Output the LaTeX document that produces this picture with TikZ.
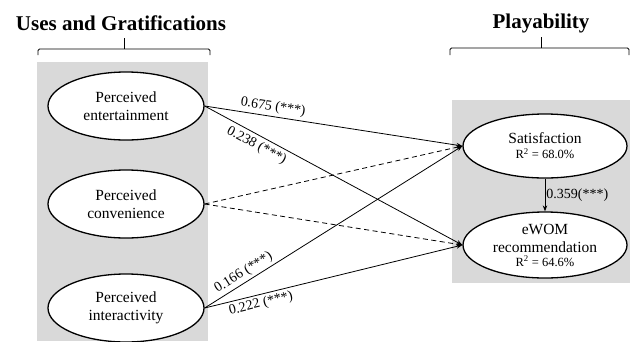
\documentclass[tikz,border=0pt]{standalone}
\usepackage{fontspec}
\setmainfont{Liberation Serif}
\usetikzlibrary{shapes.geometric,arrows.meta}
\definecolor{panelgray}{HTML}{D9D9D9}
\newcommand\myrsqfont{\fontsize{12.5}{14}\selectfont}
\tikzset{
  construct/.style={draw=black, line width=1.3pt, fill=white, ellipse, inner sep=0pt,
    minimum width=156pt, minimum height=68pt, align=center,
    font=\fontsize{15.5}{18}\selectfont},
  outcome/.style={construct, minimum width=164pt},
  linkarrow/.style={line width=0.8pt, -{Stealth[length=6pt,width=4.5pt]}},
  nslink/.style={linkarrow, dash pattern=on 5pt off 3.5pt},
  coef/.style={font=\fontsize{14}{16}\selectfont, sloped, inner sep=2.5pt},
  heading/.style={font=\bfseries\fontsize{21}{24}\selectfont},
  bracket/.style={line width=0.8pt, rounded corners=1.5pt}
}
\begin{document}
\begin{tikzpicture}[x=1pt,y=-1pt]
\useasboundingbox (0,0) rectangle (630,341);
\fill[white] (0,0) rectangle (630,341);
% panels
\fill[panelgray] (37,62) rectangle (208,341);
\fill[panelgray] (452,100) rectangle (630,283);
% headings
\node[heading] (ug) at (121,23) {Uses and Gratifications};
\node[heading] (pl) at (541,23) {Playability};
% brackets
\draw[bracket] (38,55) -- (38,49) -- (210,49) -- (210,55);
\draw[line width=0.8pt] (124,49) -- (124,38);
\draw[bracket] (450,55) -- (450,48) -- (629,48) -- (629,55);
\draw[line width=0.8pt] (541,48) -- (541,37);
% constructs
\node[construct] (ent) at (126,106) {Perceived\\entertainment};
\node[construct] (con) at (126,204) {Perceived\\convenience};
\node[construct] (int) at (126,308) {Perceived\\interactivity};
\node[outcome, minimum height=64pt] (sat) at (545,146) {Satisfaction\\[-3pt]{\myrsqfont R\textsuperscript{2} = 68.0\%}};
\node[outcome, minimum height=66pt] (ewom) at (545,245) {eWOM\\recommendation\\[-4pt]{\myrsqfont R\textsuperscript{2} = 64.6\%}};
% paths
\draw[linkarrow] (ent.east) -- node[coef, above, pos=0.26] {0.675 (***)} (sat.west);
\draw[linkarrow] (ent.east) -- node[coef, below, pos=0.22, inner sep=3.5pt] {0.238 (***)} (ewom.west);
\draw[nslink] (con.east) -- (sat.west);
\draw[nslink] (con.east) -- (ewom.west);
\draw[linkarrow] (int.east) -- node[coef, above, pos=0.17] {0.166 (***)} (sat.west);
\draw[linkarrow] (int.east) -- node[coef, below, pos=0.21] {0.222 (***)} (ewom.west);
\draw[linkarrow] (sat.south) -- node[font=\fontsize{14}{16}\selectfont, right, inner sep=1pt] {0.359(***)} (ewom.north);
\end{tikzpicture}
\end{document}
